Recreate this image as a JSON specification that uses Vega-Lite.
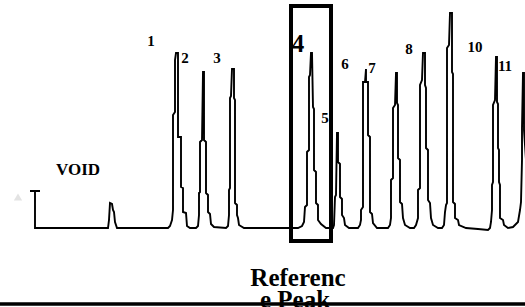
{
  "$schema": "https://vega.github.io/schema/vega-lite/v6.json",
  "width": 525,
  "height": 307,
  "autosize": {"type": "none"},
  "padding": 0,
  "background": "white",
  "config": {"view": {"stroke": null}},
  "datasets": {
    "trace": [
      {"i":1,"t":30,"s":37},{"i":2,"t":40,"s":37},{"i":3,"t":35,"s":37},{"i":4,"t":35,"s":0},
      {"i":5,"t":104,"s":0},{"i":6,"t":108,"s":0},{"i":7,"t":109,"s":8},{"i":8,"t":110,"s":25},
      {"i":9,"t":112,"s":24},{"i":10,"t":113,"s":18},{"i":11,"t":114,"s":16},{"i":12,"t":115,"s":6},
      {"i":13,"t":117,"s":0},{"i":14,"t":168,"s":0},
      {"i":15,"t":170,"s":2},{"i":16,"t":172,"s":8},{"i":17,"t":173,"s":18},{"i":18,"t":173,"s":113},
      {"i":19,"t":175,"s":116},{"i":20,"t":175,"s":168},{"i":21,"t":176,"s":175},{"i":22,"t":178,"s":175},
      {"i":23,"t":178,"s":91},{"i":24,"t":181,"s":91},{"i":25,"t":181,"s":41},{"i":26,"t":183,"s":40},
      {"i":27,"t":183,"s":16},{"i":28,"t":186,"s":15},{"i":29,"t":187,"s":2},{"i":30,"t":190,"s":0},
      {"i":31,"t":196,"s":0},{"i":32,"t":198,"s":2},{"i":33,"t":199,"s":13},{"i":34,"t":199,"s":35},
      {"i":35,"t":200,"s":36},{"i":36,"t":200,"s":86},{"i":37,"t":202,"s":88},{"i":38,"t":203,"s":156},
      {"i":39,"t":204,"s":156},{"i":40,"t":204,"s":88},{"i":41,"t":206,"s":86},{"i":42,"t":206,"s":35},
      {"i":43,"t":208,"s":33},{"i":44,"t":208,"s":16},{"i":45,"t":210,"s":14},{"i":46,"t":211,"s":4},
      {"i":47,"t":214,"s":1},{"i":48,"t":226,"s":0},
      {"i":49,"t":228,"s":2},{"i":50,"t":229,"s":13},{"i":51,"t":229,"s":38},{"i":52,"t":230,"s":40},
      {"i":53,"t":230,"s":130},{"i":54,"t":231,"s":132},{"i":55,"t":232,"s":159},{"i":56,"t":234,"s":159},
      {"i":57,"t":234,"s":130},{"i":58,"t":235,"s":128},{"i":59,"t":235,"s":25},{"i":60,"t":237,"s":23},
      {"i":61,"t":237,"s":13},{"i":62,"t":238,"s":10},{"i":63,"t":239,"s":3},{"i":64,"t":244,"s":0},
      {"i":65,"t":298,"s":0},
      {"i":66,"t":302,"s":2},{"i":67,"t":304,"s":6},{"i":68,"t":305,"s":21},{"i":69,"t":307,"s":23},
      {"i":70,"t":307,"s":76},{"i":71,"t":309,"s":78},{"i":72,"t":309,"s":151},{"i":73,"t":310,"s":153},
      {"i":74,"t":311,"s":175},{"i":75,"t":312,"s":175},{"i":76,"t":313,"s":121},{"i":77,"t":314,"s":119},
      {"i":78,"t":314,"s":58},{"i":79,"t":316,"s":56},{"i":80,"t":316,"s":25},{"i":81,"t":318,"s":23},
      {"i":82,"t":318,"s":8},{"i":83,"t":321,"s":4},{"i":84,"t":326,"s":0},{"i":85,"t":333,"s":0},
      {"i":86,"t":334,"s":3},{"i":87,"t":335,"s":31},{"i":88,"t":336,"s":33},{"i":89,"t":337,"s":95},
      {"i":90,"t":338,"s":95},{"i":91,"t":338,"s":66},{"i":92,"t":340,"s":64},{"i":93,"t":340,"s":31},
      {"i":94,"t":342,"s":29},{"i":95,"t":342,"s":13},{"i":96,"t":344,"s":10},{"i":97,"t":345,"s":3},
      {"i":98,"t":349,"s":0},{"i":99,"t":358,"s":0},
      {"i":100,"t":360,"s":3},{"i":101,"t":361,"s":8},{"i":102,"t":361,"s":18},{"i":103,"t":363,"s":21},
      {"i":104,"t":363,"s":146},{"i":105,"t":365,"s":146},{"i":106,"t":366,"s":159},{"i":107,"t":366,"s":146},
      {"i":108,"t":368,"s":146},{"i":109,"t":368,"s":93},{"i":110,"t":370,"s":91},{"i":111,"t":370,"s":16},
      {"i":112,"t":372,"s":14},{"i":113,"t":373,"s":5},{"i":114,"t":377,"s":0},{"i":115,"t":388,"s":0},
      {"i":116,"t":390,"s":3},{"i":117,"t":391,"s":10},{"i":118,"t":391,"s":48},{"i":119,"t":393,"s":50},
      {"i":120,"t":393,"s":120},{"i":121,"t":395,"s":123},{"i":122,"t":396,"s":155},{"i":123,"t":397,"s":155},
      {"i":124,"t":397,"s":125},{"i":125,"t":398,"s":123},{"i":126,"t":398,"s":70},{"i":127,"t":400,"s":68},
      {"i":128,"t":400,"s":26},{"i":129,"t":402,"s":24},{"i":130,"t":403,"s":10},{"i":131,"t":405,"s":3},
      {"i":132,"t":410,"s":0},{"i":133,"t":414,"s":0},
      {"i":134,"t":416,"s":3},{"i":135,"t":418,"s":10},{"i":136,"t":418,"s":38},{"i":137,"t":420,"s":40},
      {"i":138,"t":420,"s":143},{"i":139,"t":422,"s":148},{"i":140,"t":423,"s":175},{"i":141,"t":425,"s":175},
      {"i":142,"t":425,"s":143},{"i":143,"t":426,"s":140},{"i":144,"t":426,"s":80},{"i":145,"t":428,"s":78},
      {"i":146,"t":428,"s":28},{"i":147,"t":430,"s":25},{"i":148,"t":431,"s":10},{"i":149,"t":433,"s":3},
      {"i":150,"t":438,"s":0},{"i":151,"t":442,"s":0},
      {"i":152,"t":444,"s":3},{"i":153,"t":445,"s":16},{"i":154,"t":446,"s":23},{"i":155,"t":447,"s":25},
      {"i":156,"t":447,"s":180},{"i":157,"t":449,"s":183},{"i":158,"t":450,"s":215},{"i":159,"t":452,"s":215},
      {"i":160,"t":452,"s":156},{"i":161,"t":453,"s":154},{"i":162,"t":453,"s":26},{"i":163,"t":455,"s":24},
      {"i":164,"t":455,"s":10},{"i":165,"t":458,"s":8},{"i":166,"t":459,"s":3},{"i":167,"t":466,"s":0},
      {"i":168,"t":478,"s":-1},{"i":169,"t":488,"s":-2},
      {"i":170,"t":490,"s":0},{"i":171,"t":491,"s":6},{"i":172,"t":492,"s":18},{"i":173,"t":492,"s":43},
      {"i":174,"t":493,"s":46},{"i":175,"t":493,"s":123},{"i":176,"t":495,"s":128},{"i":177,"t":496,"s":171},
      {"i":178,"t":497,"s":171},{"i":179,"t":497,"s":126},{"i":180,"t":498,"s":124},{"i":181,"t":498,"s":80},
      {"i":182,"t":499,"s":78},{"i":183,"t":499,"s":46},{"i":184,"t":500,"s":43},{"i":185,"t":500,"s":10},
      {"i":186,"t":503,"s":8},{"i":187,"t":504,"s":3},{"i":188,"t":508,"s":0},{"i":189,"t":513,"s":1},
      {"i":190,"t":515,"s":3},
      {"i":191,"t":518,"s":6},{"i":192,"t":520,"s":18},{"i":193,"t":521,"s":26},{"i":194,"t":522,"s":68},
      {"i":195,"t":522,"s":100},{"i":196,"t":523,"s":155},{"i":197,"t":524,"s":155},{"i":198,"t":524,"s":98},
      {"i":199,"t":526,"s":68}
    ],
    "labels": [
      {"txt":"1","t":151,"s":182},
      {"txt":"2","t":185,"s":165},
      {"txt":"3","t":217,"s":165},
      {"txt":"5","t":325,"s":105},
      {"txt":"6","t":345,"s":159},
      {"txt":"7","t":372,"s":155},
      {"txt":"8","t":409,"s":174},
      {"txt":"10","t":475,"s":176},
      {"txt":"11","t":505,"s":157}
    ],
    "big": [{"txt":"4","t":298,"s":176}],
    "void": [{"txt":"VOID","t":78,"s":53}],
    "ref": [
      {"txt":"Referenc","t":298,"s":-58},
      {"txt":"e Peak","t":295,"s":-80}
    ],
    "box": [{"t":291,"t2":331,"s":222,"s2":-13}],
    "marker": [{"t":18,"s":31}],
    "bottom": [{"t":0,"t2":525,"s":-76}]
  },
  "layer": [
    {
      "data": {"name": "labels"},
      "mark": {"type": "text", "font": "Liberation Serif", "fontWeight": "bold", "fontSize": 15, "baseline": "alphabetic", "align": "center", "color": "black"},
      "encoding": {
        "x": {"field": "t", "type": "quantitative", "scale": {"domain": [0, 525], "nice": false, "zero": false}, "axis": null},
        "y": {"field": "s", "type": "quantitative", "scale": {"domain": [-79, 228], "nice": false, "zero": false}, "axis": null},
        "text": {"field": "txt"}
      }
    },
    {
      "data": {"name": "big"},
      "mark": {"type": "text", "font": "Liberation Serif", "fontWeight": "bold", "fontSize": 25, "baseline": "alphabetic", "align": "center", "color": "black"},
      "encoding": {
        "x": {"field": "t", "type": "quantitative"},
        "y": {"field": "s", "type": "quantitative"},
        "text": {"field": "txt"}
      }
    },
    {
      "data": {"name": "void"},
      "mark": {"type": "text", "font": "Liberation Serif", "fontWeight": "bold", "fontSize": 17, "baseline": "alphabetic", "align": "center", "color": "black"},
      "encoding": {
        "x": {"field": "t", "type": "quantitative"},
        "y": {"field": "s", "type": "quantitative"},
        "text": {"field": "txt"}
      }
    },
    {
      "data": {"name": "ref"},
      "mark": {"type": "text", "font": "Liberation Serif", "fontWeight": "bold", "fontSize": 25, "baseline": "alphabetic", "align": "center", "color": "black"},
      "encoding": {
        "x": {"field": "t", "type": "quantitative"},
        "y": {"field": "s", "type": "quantitative"},
        "text": {"field": "txt"}
      }
    },
    {
      "data": {"name": "box"},
      "mark": {"type": "rect", "fill": null, "fillOpacity": 0, "stroke": "black", "strokeWidth": 4},
      "encoding": {
        "x": {"field": "t", "type": "quantitative"},
        "x2": {"field": "t2"},
        "y": {"field": "s", "type": "quantitative"},
        "y2": {"field": "s2"}
      }
    },
    {
      "data": {"name": "trace"},
      "mark": {"type": "line", "color": "black", "strokeWidth": 1.9, "interpolate": "linear"},
      "encoding": {
        "x": {"field": "t", "type": "quantitative"},
        "y": {"field": "s", "type": "quantitative"},
        "order": {"field": "i", "type": "quantitative"}
      }
    },
    {
      "data": {"name": "marker"},
      "mark": {"type": "point", "shape": "triangle-up", "filled": true, "color": "#e3e3e3", "size": 70, "opacity": 1},
      "encoding": {
        "x": {"field": "t", "type": "quantitative"},
        "y": {"field": "s", "type": "quantitative"}
      }
    },
    {
      "data": {"name": "bottom"},
      "mark": {"type": "rule", "color": "black", "strokeWidth": 3.5},
      "encoding": {
        "x": {"field": "t", "type": "quantitative"},
        "x2": {"field": "t2"},
        "y": {"field": "s", "type": "quantitative"}
      }
    }
  ]
}
